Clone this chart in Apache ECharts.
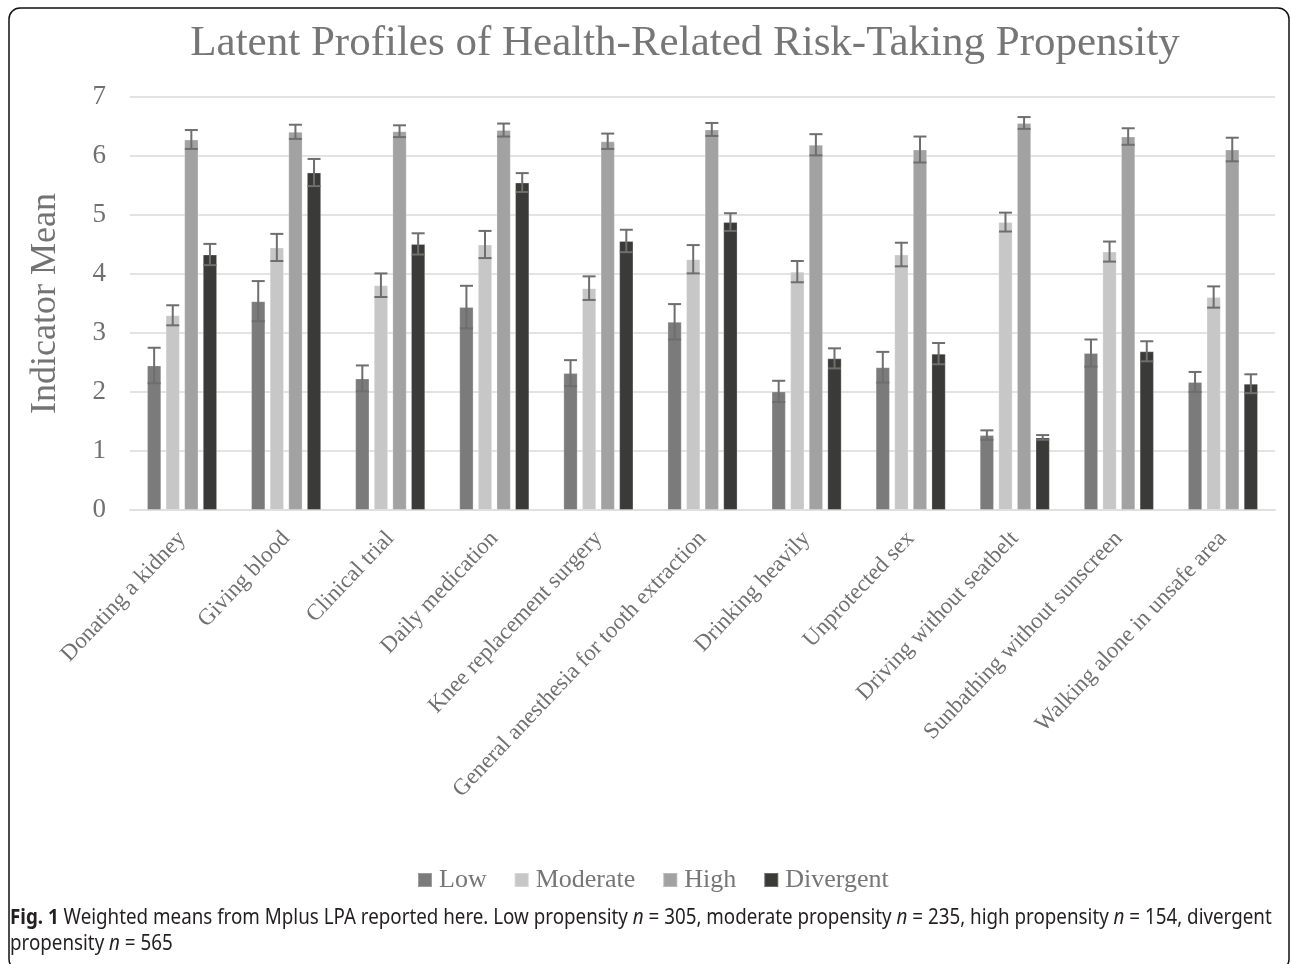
<!DOCTYPE html>
<html>
<head>
<meta charset="utf-8">
<script src="https://cdn.jsdelivr.net/npm/echarts@6/dist/echarts.min.js"></script>
<style>
html,body{margin:0;padding:0;background:#fff;}
#chart{width:1292px;height:964px;}
</style>
</head>
<body>
<div id="chart"></div>
<script>
const categories = ["Donating a kidney","Giving blood","Clinical trial","Daily medication","Knee replacement surgery","General anesthesia for tooth extraction","Drinking heavily","Unprotected sex","Driving without seatbelt","Sunbathing without sunscreen","Walking alone in unsafe area"];
const seriesNames = ["Low","Moderate","High","Divergent"];
const lowMeans       = [2.45,3.54,2.23,3.44,2.32,3.19,2.01,2.42,1.27,2.66,2.17];
const moderateMeans  = [3.30,4.45,3.81,4.50,3.76,4.25,4.04,4.33,4.88,4.38,3.61];
const highMeans      = [6.28,6.41,6.42,6.44,6.25,6.45,6.19,6.11,6.56,6.33,6.11];
const divergentMeans = [4.33,5.72,4.51,5.55,4.56,4.88,2.57,2.65,1.23,2.69,2.14];
const lowErr       = [0.30,0.34,0.22,0.36,0.22,0.30,0.18,0.26,0.08,0.23,0.17];
const moderateErr  = [0.17,0.23,0.20,0.23,0.20,0.24,0.18,0.20,0.16,0.17,0.18];
const highErr      = [0.16,0.12,0.10,0.11,0.13,0.11,0.18,0.22,0.10,0.14,0.20];
const divergentErr = [0.18,0.23,0.18,0.16,0.19,0.15,0.17,0.18,0.04,0.17,0.16];
const yTicks = [0,1,2,3,4,5,6,7];

const colors = ["#7b7b7b","#c6c7c6","#a2a2a2","#3a3a38"];
const means = [lowMeans, moderateMeans, highMeans, divergentMeans];
const errs = [lowErr, moderateErr, highErr, divergentErr];

const BAR_W = 14.3, BAR_GAP = 4.3;
const PITCH = BAR_W + BAR_GAP;
const serif = '"Liberation Serif","Times New Roman",serif';

const chart = echarts.init(document.getElementById('chart'), null, {renderer:'canvas'});

const barSeries = seriesNames.map((n,i)=>({
  type:'bar', name:n, data:means[i], barWidth:BAR_W, barGap:(BAR_GAP/BAR_W*100)+'%',
  itemStyle:{color:colors[i], borderColor:'rgba(255,255,255,0.25)', borderWidth:1},
  z:2
}));

const errSeries = seriesNames.map((n,i)=>({
  type:'custom', name:'err_'+n, z:10,
  data: categories.map((_,k)=>[k, means[i][k], errs[i][k]]),
  renderItem:(params, api)=>{
    const c = api.value(0), v = api.value(1), e = api.value(2);
    const t = api.coord([c, v+e]);
    const b = api.coord([c, v-e]);
    const x = t[0] + (i-1.5)*PITCH;
    const hw = 6.5;
    const st = {stroke:'#6e6e6e', lineWidth:2};
    return {type:'group', children:[
      {type:'line', shape:{x1:x,y1:t[1],x2:x,y2:b[1]}, style:st},
      {type:'line', shape:{x1:x-hw,y1:t[1],x2:x+hw,y2:t[1]}, style:st},
      {type:'line', shape:{x1:x-hw,y1:b[1],x2:x+hw,y2:b[1]}, style:st}
    ]};
  }
}));

const captionLine1 = 'Fig. 1 Weighted means from Mplus LPA reported here. Low propensity n = 305, moderate propensity n = 235, high propensity n = 154, divergent';
const capFont = '22px "Noto Sans"';
const mctx = document.createElement('canvas').getContext('2d');
mctx.font = capFont;
const capScale = 1262 / mctx.measureText(captionLine1).width;

chart.setOption({
  animation:false,
  backgroundColor:'#fff',
  grid:{left:130, right:17, top:97, bottom:454, containLabel:false},
  legend:{
    data:seriesNames, left:412, top:862, itemWidth:14, itemHeight:14, itemGap:27,
    icon:'rect',
    textStyle:{fontFamily:serif, fontSize:26, color:'#767676', padding:[0,0,0,2]}
  },
  xAxis:{
    type:'category', data:categories,
    axisLine:{show:true, lineStyle:{color:'#e0e0e0', width:2}},
    axisTick:{show:false},
    axisLabel:{rotate:46.5, interval:0, fontFamily:serif, fontSize:23, color:'#707070', margin:25}
  },
  yAxis:{
    type:'value', min:0, max:7, interval:1,
    name:'Indicator Mean', nameLocation:'middle', nameGap:66, nameRotate:90,
    nameTextStyle:{fontFamily:serif, fontSize:36, color:'#737373'},
    axisLine:{show:false}, axisTick:{show:false},
    splitLine:{lineStyle:{color:'#e3e3e3', width:2}},
    axisLabel:{fontFamily:serif, fontSize:27, color:'#707070', margin:24,
      formatter:(v)=> yTicks.includes(v) ? String(v) : ''}
  },
  series:[...barSeries, ...errSeries],
  graphic:[
    {type:'rect', shape:{x:9,y:8,width:1280,height:962,r:11}, style:{fill:'none', stroke:'#111', lineWidth:1.5}, silent:true},
    {type:'text', x:685, y:44, style:{text:'Latent Profiles of Health-Related Risk-Taking Propensity', font:'43px '+serif, fill:'#767676', textAlign:'center', textVerticalAlign:'middle'}},
    {type:'text', x:10, y:905, scaleX:capScale, style:{
      text:'{b|Fig. 1} Weighted means from Mplus LPA reported here. Low propensity {i|n} = 305, moderate propensity {i|n} = 235, high propensity {i|n} = 154, divergent\npropensity {i|n} = 565',
      font:capFont, fill:'#231f20', lineHeight:26,
      rich:{b:{fontWeight:'bold', fontFamily:'Noto Sans', fontSize:22, fill:'#231f20'}, i:{fontStyle:'italic', fontFamily:'Noto Sans', fontSize:22, fill:'#231f20'}}
    }}
  ]
});
</script>
</body>
</html>
